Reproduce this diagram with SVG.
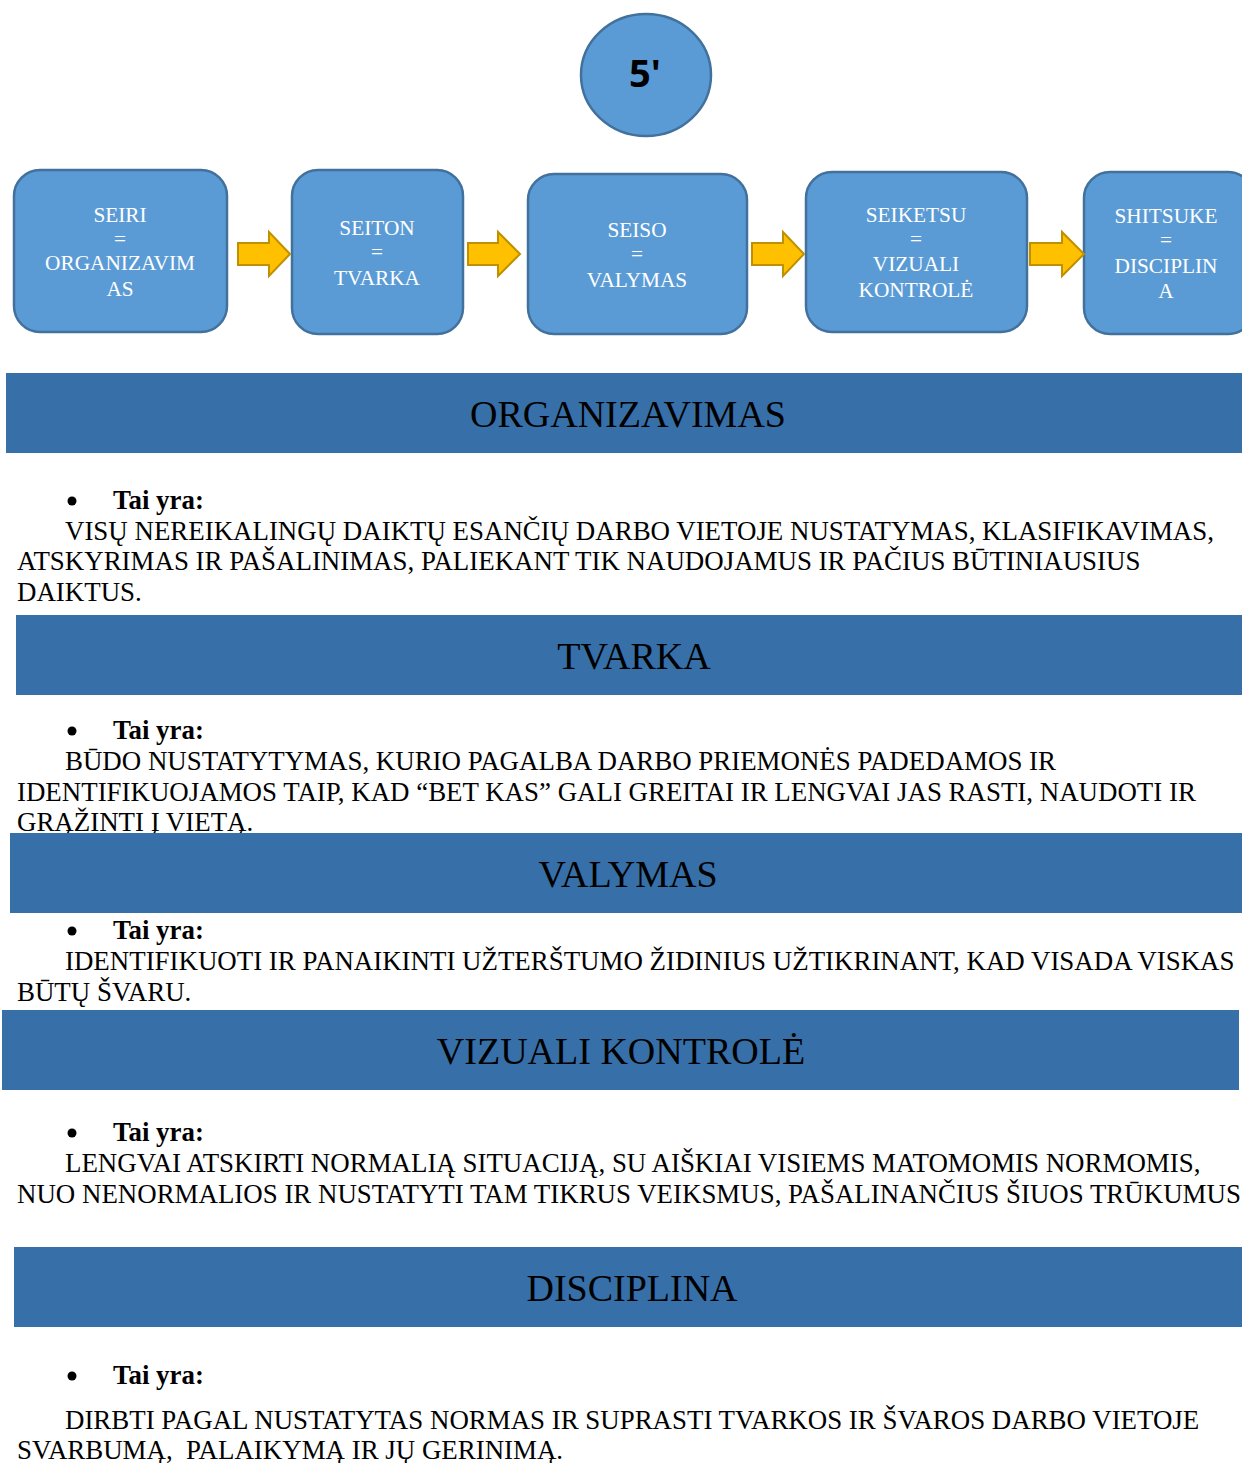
<svg xmlns="http://www.w3.org/2000/svg" width="1242" height="1463" viewBox="0 0 1242 1463">
<style>
.node{fill:#5b9bd5;stroke:#41719c;stroke-width:2.5}
.nt{font-family:"Liberation Serif",serif;font-size:21.3px;fill:#fff;text-anchor:middle}
.arr{fill:#ffc000;stroke:#bf9000;stroke-width:2}
.ban{fill:#376fa8}
.bt{font-family:"Liberation Serif",serif;font-size:38px;fill:#000;text-anchor:middle}
.tx{font-family:"Liberation Serif",serif;font-size:26.9px;fill:#000}
.tb{font-family:"Liberation Serif",serif;font-size:26.9px;font-weight:bold;fill:#000}
.bul{fill:#000}
</style>
<rect width="1242" height="1463" fill="#fff"/>
<g id="circle5">
<ellipse class="node" cx="646" cy="75" rx="65" ry="61"/>
<text x="645" y="87" font-family="Open Sans,Liberation Sans,sans-serif" font-size="38" font-weight="bold" text-anchor="middle" fill="#000">5'</text>
</g>
<g id="seiri">
<rect class="node" x="14" y="170" width="213" height="162" rx="26"/>
<text class="nt" x="120" y="222">SEIRI</text>
<text class="nt" x="120" y="246">=</text>
<text class="nt" x="120" y="270">ORGANIZAVIM</text>
<text class="nt" x="120" y="296">AS</text>
</g>
<g id="seiton">
<rect class="node" x="292" y="170" width="171" height="164" rx="26"/>
<text class="nt" x="377" y="235">SEITON</text>
<text class="nt" x="377" y="259">=</text>
<text class="nt" x="377" y="285">TVARKA</text>
</g>
<g id="seiso">
<rect class="node" x="528" y="174" width="219" height="160" rx="26"/>
<text class="nt" x="637" y="237">SEISO</text>
<text class="nt" x="637" y="261">=</text>
<text class="nt" x="637" y="287">VALYMAS</text>
</g>
<g id="seiketsu">
<rect class="node" x="806" y="172" width="221" height="160" rx="26"/>
<text class="nt" x="916" y="222">SEIKETSU</text>
<text class="nt" x="916" y="246">=</text>
<text class="nt" x="916" y="271">VIZUALI</text>
<text class="nt" x="916" y="297">KONTROLĖ</text>
</g>
<g id="shitsuke">
<rect class="node" x="1084" y="172" width="170" height="162" rx="26"/>
<text class="nt" x="1166" y="223">SHITSUKE</text>
<text class="nt" x="1166" y="247">=</text>
<text class="nt" x="1166" y="273">DISCIPLIN</text>
<text class="nt" x="1166" y="298">A</text>
</g>
<g id="connectors">
<path class="arr" d="M238,243 H269 V232 L290,254 L269,276 V265 H238 Z"/>
<path class="arr" d="M468,243 H498 V232 L520,254 L498,276 V265 H468 Z"/>
<path class="arr" d="M752,243 H783 V232 L804,254 L783,276 V265 H752 Z"/>
<path class="arr" d="M1030,243 H1062 V232 L1084,254 L1062,276 V265 H1030 Z"/>
</g>
<g id="sec1">
<rect class="ban" x="6" y="373" width="1236" height="80"/>
<text class="bt" x="628" y="427">ORGANIZAVIMAS</text>
<circle class="bul" cx="72" cy="501" r="4.5"/>
<text class="tb" x="113" y="509">Tai yra:</text>
<text class="tx" x="65" y="540">VISŲ NEREIKALINGŲ DAIKTŲ ESANČIŲ DARBO VIETOJE NUSTATYMAS, KLASIFIKAVIMAS,</text>
<text class="tx" x="17" y="570">ATSKYRIMAS IR PAŠALINIMAS, PALIEKANT TIK NAUDOJAMUS IR PAČIUS BŪTINIAUSIUS</text>
<text class="tx" x="17" y="601">DAIKTUS.</text>
</g>
<g id="sec2">
<rect class="ban" x="16" y="615" width="1226" height="80"/>
<text class="bt" x="634" y="669">TVARKA</text>
<circle class="bul" cx="72" cy="731" r="4.5"/>
<text class="tb" x="113" y="739">Tai yra:</text>
<text class="tx" x="65" y="770">BŪDO NUSTATYTYMAS, KURIO PAGALBA DARBO PRIEMONĖS PADEDAMOS IR</text>
<text class="tx" x="17" y="801">IDENTIFIKUOJAMOS TAIP, KAD “BET KAS” GALI GREITAI IR LENGVAI JAS RASTI, NAUDOTI IR</text>
<text class="tx" x="17" y="831">GRĄŽINTI Į VIETĄ.</text>
</g>
<g id="sec3">
<rect class="ban" x="10" y="833" width="1232" height="80"/>
<text class="bt" x="628" y="887">VALYMAS</text>
<circle class="bul" cx="72" cy="931" r="4.5"/>
<text class="tb" x="113" y="939">Tai yra:</text>
<text class="tx" x="65" y="970">IDENTIFIKUOTI IR PANAIKINTI UŽTERŠTUMO ŽIDINIUS UŽTIKRINANT, KAD VISADA VISKAS</text>
<text class="tx" x="17" y="1001">BŪTŲ ŠVARU.</text>
</g>
<g id="sec4">
<rect class="ban" x="2" y="1010" width="1237" height="80"/>
<text class="bt" x="621" y="1064">VIZUALI KONTROLĖ</text>
<circle class="bul" cx="72" cy="1133" r="4.5"/>
<text class="tb" x="113" y="1141">Tai yra:</text>
<text class="tx" x="65" y="1172">LENGVAI ATSKIRTI NORMALIĄ SITUACIJĄ, SU AIŠKIAI VISIEMS MATOMOMIS NORMOMIS,</text>
<text class="tx" x="17" y="1203">NUO NENORMALIOS IR NUSTATYTI TAM TIKRUS VEIKSMUS, PAŠALINANČIUS ŠIUOS TRŪKUMUS</text>
</g>
<g id="sec5">
<rect class="ban" x="14" y="1247" width="1228" height="80"/>
<text class="bt" x="632" y="1301">DISCIPLINA</text>
<circle class="bul" cx="72" cy="1376" r="4.5"/>
<text class="tb" x="113" y="1384">Tai yra:</text>
<text class="tx" x="65" y="1429">DIRBTI PAGAL NUSTATYTAS NORMAS IR SUPRASTI TVARKOS IR ŠVAROS DARBO VIETOJE</text>
<text class="tx" x="17" y="1459" xml:space="preserve">SVARBUMĄ,  PALAIKYMĄ IR JŲ GERINIMĄ.</text>
</g>
</svg>
